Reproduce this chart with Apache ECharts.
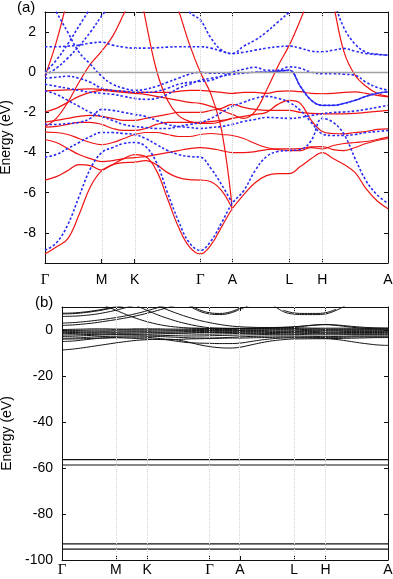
<!DOCTYPE html>
<html><head><meta charset="utf-8">
<script src="https://cdn.jsdelivr.net/npm/echarts@6/dist/echarts.min.js"></script>
<style>html,body{margin:0;padding:0;background:#fff}#c{width:393px;height:579px}</style>
</head><body><div id="c"></div>
<script>
// k-path sample positions (path length, arb. units)
const kPath = [0,0.113,0.227,0.34,0.454,0.567,0.677,0.787,0.897,1.006,1.115,1.225,1.334,1.444,1.553,1.66,1.766,1.873,1.987,2.101,2.215,2.329,2.443,2.553,2.663,2.773,2.882,2.991,3.101,3.21,3.32,3.43];
const kTicks = [0,0.567,0.897,1.553,1.873,2.443,2.773,3.43];
const kLabels = ['Γ','M','K','Γ','A','L','H','A'];
const yTicksA = [2,0,-2,-4,-6,-8];
const yTicksB = [0,-20,-40,-60,-80,-100];
const n = null;
// panel (a) red bands (eV)
const redBands = [
 [-9.05,-8.7,-8.3,-7.1,-5.7,-4.9,-4.6,-4.3,-4.1,-4.2,-4.9,-6.3,-7.7,-8.7,-9.05,-8.6,-7.7,-6.8,-6.1,-5.5,-5.15,-5.05,-5.05,-4.7,-4.3,-4.0,-4.3,-4.6,-5.0,-5.8,-6.4,-6.8],
 [-5.37,-5.2,-4.9,-4.6,-4.65,-4.87,-4.6,-4.5,-4.48,-4.4,-4.6,-5.0,-5.25,-5.35,-5.37,-5.45,-5.9,-6.8,n,n,n,n,n,n,n,n,n,n,n,n,n,n],
 [-3.35,-3.5,-3.8,-4.1,-4.3,-4.45,-4.4,-4.3,-4.25,-4.2,-4.1,-4.0,-3.9,-3.8,-3.75,-3.8,-3.9,-4.0,-4.0,-3.95,-3.85,-3.82,-3.82,-3.8,-3.72,-3.7,-3.85,-3.9,-3.75,-3.55,-3.4,-3.3],
 [-2.98,-3.0,-3.1,-3.3,-3.5,-3.6,-3.5,-3.3,-3.1,-3.0,-3.0,-3.1,-3.2,-3.2,-3.1,-3.05,-3.1,-3.15,-3.3,-3.55,-3.75,-3.85,-3.9,-3.9,-3.75,-3.82,-3.65,-3.55,-3.5,-3.45,-3.35,-3.23],
 [-2.73,-2.7,-2.6,-2.5,-2.5,-2.6,-2.8,-2.9,-2.9,-2.8,-2.6,-2.5,-2.5,-2.5,-2.5,-2.45,-2.4,-2.3,-2.2,-2.1,-2.0,-1.6,-1.4,-1.55,-2.4,-2.95,-3.05,-3.07,-3.0,-2.95,-2.85,-2.82],
 [-2.48,-2.4,-2.3,-2.2,-2.15,-2.2,-2.3,-2.4,-2.4,-2.3,-2.2,-2.1,-2.0,-2.0,-2.0,-1.9,-1.8,-1.6,-1.75,-1.85,-1.9,-1.9,-1.9,-2.0,-2.05,-2.07,-2.07,-2.07,-2.05,-2.0,-1.95,-1.9],
 [-1.98,-1.8,-1.5,-1.2,-1.0,-0.9,-0.95,-1.0,-1.05,-1.1,-1.2,-1.3,-1.4,-1.5,-1.55,-1.7,-1.9,-2.1,-2.3,-1.95,-0.9,0.3,1.35,2.6,4.0,5.5,3.4,1.0,-0.15,-0.7,-1.05,-1.2],
 [-0.93,-0.9,-0.88,-0.85,-0.83,-0.85,-0.9,-0.95,-1.0,-1.0,-1.0,-1.0,-0.95,-0.9,-0.9,-0.95,-1.0,-1.05,-1.0,-1.0,-1.05,-0.95,-0.93,-0.97,-1.05,-1.07,-1.05,-1.0,-0.98,-1.05,-1.15,-1.23],
 [-0.2,1.5,3.7,n,n,n,n,n,n,n,n,n,n,n,n,n,n,n,n,n,n,n,n,n,n,n,n,n,n,n,n,n],
 [-2.7,-2.3,-1.5,-0.5,0.4,1.05,1.8,2.9,4.0,n,n,n,n,n,n,n,n,n,n,n,n,n,n,n,n,n,n,n,n,n,n,n],
 [n,n,n,n,n,n,n,n,5.5,2.6,0.1,-1.4,-2.15,-2.45,-2.55,-2.55,-2.45,-2.3,n,n,n,n,n,n,n,n,n,n,n,n,n,n],
 [n,n,n,n,n,n,n,n,n,n,n,4.5,3.1,1.4,0.0,-1.1,-2.9,-6.8,n,n,n,n,n,n,n,n,n,n,n,n,n,n]
];
// panel (a) blue bands (eV)
const blueBands = [
 [-8.87,-8.5,-7.6,-6.2,-4.8,-4.0,-3.75,-3.55,-3.5,-3.7,-4.5,-6.0,-7.4,-8.5,-8.87,-8.4,-7.5,-6.53,-5.9,-4.9,-4.2,-3.95,-3.9,-3.85,-3.4,-2.3,-2.5,-3.1,-4.3,-5.4,-6.1,-6.53],
 [-4.23,-4.1,-3.8,-3.5,-3.2,-3.0,-3.0,-3.05,-3.1,-3.3,-3.6,-3.9,-4.1,-4.2,-4.23,-4.8,-5.6,-6.53,n,n,n,n,n,n,n,n,n,n,n,n,n,n],
 [-2.6,-2.6,-2.55,-2.5,-2.3,-1.85,-1.9,-2.0,-2.1,-2.2,-2.4,-2.6,-2.7,-2.75,-2.8,-2.75,-2.7,-2.6,-2.45,-2.35,-2.25,-2.27,-2.3,-2.25,-2.15,-2.07,-2.0,-1.98,-1.93,-1.85,-1.75,-1.65],
 [-0.93,-1.1,-1.4,-1.7,-2.0,-2.2,-2.4,-2.6,-2.7,-2.75,-2.8,-2.8,-2.7,-2.6,-2.5,-2.3,-2.0,-1.7,-1.5,-1.3,-1.2,-1.3,-1.5,-1.9,-2.5,-3.07,-3.15,-3.15,-3.1,-3.0,-2.95,-2.9],
 [-0.6,-0.7,-0.8,-0.9,-1.0,-1.05,-1.1,-1.2,-1.3,-1.35,-1.3,-1.1,-0.8,-0.6,-0.4,-0.3,-0.2,-0.1,-0.05,0.0,0.0,0.05,0.1,-0.7,-1.4,-1.65,-1.65,-1.55,-1.4,-1.2,-1.05,-0.98],
 [-0.3,-0.25,-0.2,-0.3,-0.5,-0.8,-0.9,-0.95,-1.0,-1.0,-0.95,-0.8,-0.6,-0.5,-0.45,-0.4,-0.2,0.0,0.15,0.25,0.1,0.1,0.27,0.2,0.0,-0.07,-0.07,-0.1,-0.15,-0.5,-0.75,-0.9],
 [0.0,0.6,1.4,2.3,3.2,n,n,n,n,n,n,n,n,n,n,n,n,n,n,n,n,n,n,n,n,n,n,n,n,n,n,n],
 [-0.15,0.2,0.7,1.3,2.0,2.8,3.5,n,n,n,n,n,n,n,n,n,n,n,n,n,n,n,n,n,n,n,n,n,n,n,n,n],
 [4.0,3.0,2.0,1.0,0.4,-0.2,-0.6,-0.8,-0.9,-0.85,-0.7,-0.5,-0.3,-0.1,0.0,-0.05,-0.05,0.0,n,n,n,n,n,n,n,n,n,n,n,n,n,n],
 [1.27,1.27,1.3,1.35,1.45,1.5,1.35,1.25,1.2,1.2,1.22,1.25,1.27,1.27,1.27,1.2,1.05,0.93,1.0,1.1,1.2,1.27,1.3,1.2,1.05,1.02,1.1,1.18,1.05,0.93,0.88,0.85],
 [n,n,n,n,n,n,n,n,n,n,n,n,4.0,3.0,2.6,1.7,1.1,0.93,1.3,1.6,2.0,2.5,3.0,3.6,n,n,n,n,n,n,n,n],
 [n,n,n,n,n,n,n,n,n,n,n,n,n,n,n,n,n,n,n,n,n,n,n,n,n,5.0,3.6,2.2,1.4,1.0,0.9,0.85]
];
// doubly degenerate blue band along A-L-H-A (appears solid)
const blueSolidBand = [n,n,n,n,n,n,n,n,n,n,n,n,n,n,n,n,n,n,n,0.0,0.0,0.05,0.1,-0.7,-1.4,-1.65,-1.65,-1.55,-1.4,-1.2,-1.05,-0.98];
// panel (b) bands (eV)
const blackBands = [
 [-8.7,-8.3,-7.7,-7.0,-6.3,-5.6,-5.0,-4.5,-4.2,-4.0,-4.0,-4.4,-5.3,-6.4,-7.2,-7.7,-7.85,-7.5,-6.5,-5.5,-4.7,-4.2,-3.9,-3.85,-3.8,-3.8,-4.1,-4.7,-5.4,-6.0,-6.5,-6.7],
 [-5.0,-4.8,-4.3,-3.8,-3.4,-3.2,-3.1,-3.1,-3.2,-3.6,-4.3,-5.0,-5.5,-5.7,-5.8,-5.9,-5.9,-5.7,-5.0,-4.3,-3.8,-3.5,-3.4,-3.4,-3.5,-3.6,-3.7,-3.6,-3.5,-3.4,-3.3,-3.3],
 [-4.0,-3.9,-3.8,-3.6,-3.5,-3.4,-3.5,-3.7,-3.9,-4.1,-4.2,-4.1,-3.9,-3.8,-3.7,-3.6,-3.5,-3.5,-3.4,-3.3,-3.2,-3.1,-3.1,-3.1,-3.2,-3.2,-3.2,-3.1,-3.0,-3.0,-3.0,-3.0],
 [-3.6,-3.5,-3.3,-3.0,-2.8,-2.7,-2.6,-2.6,-2.7,-2.8,-3.0,-3.2,-3.4,-3.5,-3.5,-3.4,-3.2,-3.0,-2.8,-2.7,-2.6,-2.6,-2.6,-2.7,-2.8,-2.9,-2.8,-2.7,-2.6,-2.6,-2.6,-2.6],
 [-2.8,-2.7,-2.5,-2.3,-2.1,-2.0,-2.0,-2.1,-2.2,-2.3,-2.4,-2.5,-2.6,-2.6,-2.5,-2.4,-2.3,-2.2,-2.1,-2.0,-1.9,-1.9,-1.9,-2.0,-2.1,-2.1,-2.1,-2.0,-2.0,-2.0,-2.0,-2.0],
 [-2.2,-2.1,-2.0,-1.9,-1.8,-1.7,-1.7,-1.8,-1.8,-1.7,-1.6,-1.6,-1.7,-1.8,-1.8,-1.7,-1.6,-1.5,-1.5,-1.5,-1.5,-1.4,-1.4,-1.5,-1.6,-1.6,-1.6,-1.6,-1.6,-1.6,-1.6,-1.6],
 [-1.6,-1.5,-1.4,-1.4,-1.3,-1.3,-1.3,-1.3,-1.2,-1.2,-1.3,-1.3,-1.2,-1.1,-1.1,-1.1,-1.1,-1.0,-1.0,-1.0,-1.1,-1.1,-1.0,-1.0,-1.1,-1.2,-1.2,-1.1,-1.1,-1.1,-1.1,-1.1],
 [-1.1,-1.1,-1.0,-1.0,-0.9,-0.9,-0.8,-0.8,-0.8,-0.9,-0.9,-0.8,-0.7,-0.7,-0.6,-0.6,-0.6,-0.6,-0.6,-0.6,-0.6,-0.6,-0.6,-0.7,-0.7,-0.8,-0.8,-0.7,-0.7,-0.7,-0.7,-0.7],
 [-0.6,-0.6,-0.5,-0.5,-0.5,-0.4,-0.4,-0.4,-0.4,-0.4,-0.4,-0.3,-0.3,-0.2,-0.2,-0.2,-0.2,-0.2,-0.2,-0.2,-0.1,-0.1,-0.1,-0.2,-0.3,-0.3,-0.3,-0.3,-0.3,-0.3,-0.3,-0.3],
 [-0.2,-0.2,-0.1,0.0,0.0,0.1,0.1,0.1,0.1,0.1,0.0,0.0,0.1,0.2,0.2,0.2,0.2,0.3,0.3,0.3,0.3,0.3,0.3,0.2,0.1,0.1,0.1,0.1,0.1,0.1,0.1,0.1],
 [0.2,0.3,0.4,0.5,0.5,0.4,0.4,0.5,0.5,0.5,0.4,0.4,0.5,0.6,0.6,0.6,0.6,0.6,0.6,0.6,0.6,0.6,0.6,0.5,0.5,0.4,0.4,0.4,0.4,0.4,0.4,0.4],
 [7.3,7.4,7.8,8.4,9.2,10.2,n,n,n,n,n,n,n,n,n,n,n,n,n,n,n,n,n,n,n,n,n,n,n,n,n,n],
 [7.0,7.1,7.5,8.1,8.9,9.9,10.8,n,n,n,n,n,n,n,n,n,n,n,n,n,n,n,n,n,n,n,n,n,n,n,n,n],
 [5.9,6.0,6.3,6.8,7.6,8.6,9.8,11,n,n,n,n,n,n,n,n,n,n,n,n,n,n,n,n,n,n,n,n,n,n,n,n],
 [3.0,3.2,3.6,4.1,4.7,5.4,6.2,7.2,8.4,9.7,11,n,n,n,n,n,n,n,n,n,n,n,n,n,n,n,n,n,n,n,n,n],
 [2.0,2.2,2.6,3.1,3.8,4.5,5.3,6.2,7.3,8.5,9.8,11,n,n,n,n,n,n,n,n,n,n,n,n,n,n,n,n,n,n,n,n],
 [n,n,n,n,10.5,8.6,6.7,5.0,3.6,2.5,1.7,1.2,0.9,0.8,0.7,0.7,0.7,0.7,0.8,0.9,1.0,1.0,1.0,0.9,0.8,0.8,0.8,0.8,0.8,0.8,0.8,0.8],
 [n,n,n,n,n,n,n,10.5,8.5,6.6,5.0,3.6,2.5,1.6,1.0,0.8,0.7,0.7,0.7,0.8,0.9,1.1,1.3,1.7,2.1,2.3,2.0,1.5,1.0,0.7,0.5,0.5],
 [n,n,n,n,n,n,n,n,n,10.5,8.7,7.0,5.5,4.2,3.2,2.4,1.8,1.4,1.2,1.1,1.1,1.2,1.4,1.8,2.2,2.4,2.2,1.8,1.4,1.1,0.9,0.8],
 [n,n,n,n,n,n,n,n,n,n,n,n,10.6,8.2,7.0,6.7,7.3,9.0,11,n,n,n,n,n,n,n,n,n,n,n,n,n],
 [n,n,n,n,n,n,n,n,n,n,n,n,11,8.8,7.5,7.2,7.8,9.5,n,n,n,n,n,n,n,n,n,n,n,n,n,n],
 [n,n,n,n,n,n,n,n,n,n,n,n,n,n,n,n,n,n,n,n,11,8.0,6.9,6.7,6.7,7.0,8.5,10.8,n,n,n,n],
 [n,n,n,n,n,n,n,n,n,n,n,n,n,n,n,n,n,n,n,n,n,8.6,7.4,7.2,7.2,7.5,9.0,n,n,n,n,n]
];
const coreLevels = [-56.4,-58.7,-93.0,-95.3];

const chart = echarts.init(document.getElementById('c'), null, {renderer:'canvas'});
const FONT = 'Liberation Sans';
function fmtK(v){
  let best=0, d=1e9;
  kTicks.forEach((t,i)=>{ if(Math.abs(t-v)<d){d=Math.abs(t-v);best=i;} });
  const s = kLabels[best];
  return s==='Γ' ? '{g|Γ}' : s;
}
function xAxes(gi, margin){
  return [
    {gridIndex:gi,type:'value',min:0,max:3.43,position:'bottom',
     axisLine:{show:true,onZero:false,lineStyle:{color:'#111',width:1}},
     axisTick:{show:true,inside:true,length:4,customValues:kTicks,lineStyle:{color:'#111'}},
     axisLabel:{show:true,customValues:kTicks,formatter:fmtK,margin:margin,color:'#000',fontSize:14,fontFamily:FONT,
       rich:{g:{fontFamily:'Liberation Serif',fontSize:15,color:'#000'}}},
     splitLine:{show:false}},
    {gridIndex:gi,type:'value',min:0,max:3.43,position:'top',
     axisLine:{show:true,onZero:false,lineStyle:{color:'#111',width:1}},
     axisTick:{show:true,inside:true,length:4,customValues:kTicks,lineStyle:{color:'#111'}},
     axisLabel:{show:false},splitLine:{show:false}}
  ];
}
function yAxes(gi,min,max,ticks,gap,margin){
  return [
    {gridIndex:gi,type:'value',min:min,max:max,position:'left',
     name:'Energy (eV)',nameLocation:'middle',nameGap:gap,nameRotate:90,
     nameTextStyle:{fontSize:14,fontFamily:FONT,color:'#000'},
     axisLine:{show:true,onZero:false,lineStyle:{color:'#111',width:1}},
     axisTick:{show:true,inside:true,length:4,customValues:ticks,lineStyle:{color:'#111'}},
     axisLabel:{show:true,customValues:ticks,margin:margin,color:'#000',fontSize:14,fontFamily:FONT},
     splitLine:{show:false}},
    {gridIndex:gi,type:'value',min:min,max:max,position:'right',
     axisLine:{show:true,onZero:false,lineStyle:{color:'#111',width:1}},
     axisTick:{show:true,inside:true,length:4,customValues:ticks,lineStyle:{color:'#111'}},
     axisLabel:{show:false},splitLine:{show:false}}
  ];
}
const series = [];
function guide(xi, yi, withZero){
  const data = kTicks.slice(1,-1).map(k=>({xAxis:k}));
  if(withZero) data.push({yAxis:0,lineStyle:{color:'#a0a0a0',type:'solid',width:1.3}});
  series.push({type:'line',xAxisIndex:xi,yAxisIndex:yi,data:[],silent:true,
    markLine:{silent:true,symbol:'none',label:{show:false},animation:false,
      lineStyle:{color:'#d4d4d4',type:'dotted',width:1},data:data}});
}
guide(0,0,true);
guide(2,2,false);
const mk = b => kPath.map((k,i)=>[k,b[i]]);
redBands.forEach(b=>series.push({type:'line',xAxisIndex:0,yAxisIndex:0,data:mk(b),smooth:0.4,
  showSymbol:false,symbol:'none',connectNulls:false,lineStyle:{color:'#f01414',width:1.2},z:3}));
blueBands.forEach(b=>series.push({type:'line',xAxisIndex:0,yAxisIndex:0,data:mk(b),smooth:0.4,
  showSymbol:false,symbol:'none',connectNulls:false,lineStyle:{color:'#2a2af5',width:1.6,type:[2.5,2]},z:4}));
series.push({type:'line',xAxisIndex:0,yAxisIndex:0,data:mk(blueSolidBand),smooth:0.4,
  showSymbol:false,symbol:'none',connectNulls:false,lineStyle:{color:'#2a2af5',width:1.3},z:4});
blackBands.forEach(b=>series.push({type:'line',xAxisIndex:2,yAxisIndex:2,data:mk(b),smooth:0.4,
  showSymbol:false,symbol:'none',connectNulls:false,lineStyle:{color:'#111',width:1},z:3}));
coreLevels.forEach(e=>series.push({type:'line',xAxisIndex:2,yAxisIndex:2,data:[[0,e],[3.43,e]],
  showSymbol:false,symbol:'none',lineStyle:{color:'#111',width:1.2},z:3}));

chart.setOption({
  animation:false,
  backgroundColor:'#fff',
  grid:[{left:45,top:12,width:343,height:251,containLabel:false,outerBoundsMode:'none'},
        {left:62,top:307,width:326,height:253,containLabel:false,outerBoundsMode:'none'}],
  xAxis:[...xAxes(0,10),...xAxes(1,3)],
  yAxis:[...yAxes(0,-9.5,3,yTicksA,31,9),...yAxes(1,-100,10,yTicksB,48,9)],
  graphic:[
    {type:'text',left:17,top:0,style:{text:'(a)',font:'15px "Liberation Sans"',fill:'#000'}},
    {type:'text',left:35,top:295,style:{text:'(b)',font:'15px "Liberation Sans"',fill:'#000'}}
  ],
  series:series
});
</script></body></html>
